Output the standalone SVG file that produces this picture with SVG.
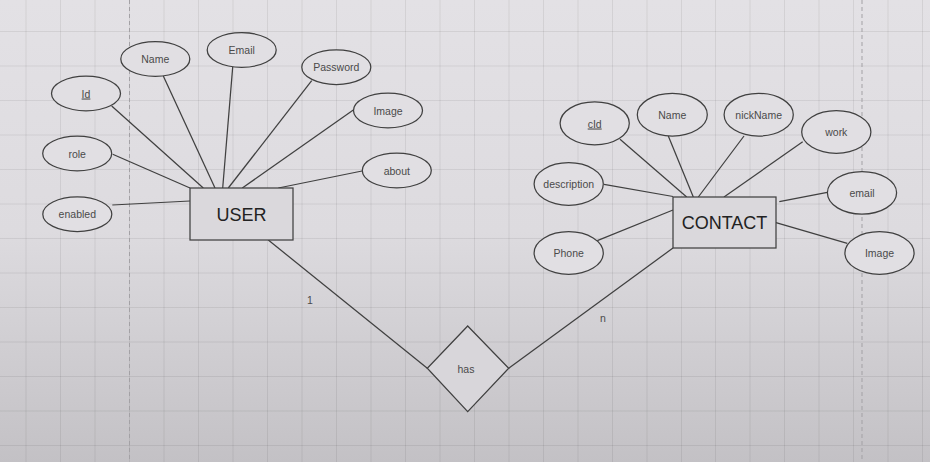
<svg xmlns="http://www.w3.org/2000/svg" width="930" height="462" viewBox="0 0 930 462">
<defs>
<linearGradient id="bg" x1="0" y1="0" x2="0" y2="1">
<stop offset="0" stop-color="#e3e1e5"/>
<stop offset="0.5" stop-color="#dddbdf"/>
<stop offset="1" stop-color="#c3c1c5"/>
</linearGradient>
<style>
.grid{stroke:#000;stroke-opacity:0.07;stroke-width:1;fill:none}
.page{stroke:#a3a1a5;stroke-width:1;stroke-dasharray:4 3;fill:none}
.attr{fill:#e1dfe3;stroke:#404040;stroke-width:1.25}
.ent{fill:#dad8dc;stroke:#404040;stroke-width:1.25}
.rel{fill:#d8d6da;stroke:#404040;stroke-width:1.25}
.conn line{stroke:#404040;stroke-width:1.25}
.t{font-family:"Liberation Sans",Arial,sans-serif;font-size:10.5px;fill:#4a4a4a;text-anchor:middle}
.big{font-family:"Liberation Sans",Arial,sans-serif;font-size:18px;fill:#222;text-anchor:middle}
.u{text-decoration:underline}
</style>
</defs>
<rect x="0" y="0" width="930" height="462" fill="url(#bg)"/>
<g id="grid">
<path class="grid" d="M26 0V462M60.5 0V462M95 0V462M129.5 0V462M164 0V462M198.5 0V462M233 0V462M267.5 0V462M302 0V462M336.5 0V462M371 0V462M405.5 0V462M440 0V462M474.5 0V462M509 0V462M543.5 0V462M578 0V462M612.5 0V462M647 0V462M681.5 0V462M715.5 0V462M750 0V462M784.5 0V462M819 0V462M853.5 0V462M888 0V462M922.5 0V462"/>
<path class="grid" d="M0 31.5H930M0 66H930M0 100.5H930M0 135H930M0 169.5H930M0 204H930M0 238.5H930M0 273H930M0 307.5H930M0 342H930M0 376.5H930M0 411H930M0 445.5H930"/>
<path class="page" d="M129.5 0V462M862 0V462"/>
</g>
<g id="connectors" class="conn">
<line x1="111.7" y1="106" x2="203.3" y2="188"/>
<line x1="163.3" y1="76" x2="215" y2="188"/>
<line x1="232.7" y1="67" x2="222.7" y2="188"/>
<line x1="311.7" y1="80.7" x2="228.3" y2="188"/>
<line x1="353.3" y1="110" x2="242.3" y2="188"/>
<line x1="362" y1="171" x2="278.3" y2="188"/>
<line x1="112.7" y1="154.3" x2="190" y2="188"/>
<line x1="112.3" y1="205" x2="190" y2="201"/>
<line x1="620" y1="139.3" x2="686.7" y2="197"/>
<line x1="668.3" y1="136" x2="693.3" y2="197"/>
<line x1="744" y1="136" x2="698.3" y2="197"/>
<line x1="802.7" y1="141.7" x2="724" y2="197"/>
<line x1="604" y1="184.3" x2="673" y2="196.5"/>
<line x1="597.3" y1="240.7" x2="673" y2="210"/>
<line x1="827.3" y1="192.3" x2="779.3" y2="201.7"/>
<line x1="847.3" y1="243.3" x2="776" y2="222.7"/>
<line x1="268.3" y1="240" x2="427.3" y2="368.3"/>
<line x1="508.7" y1="368.3" x2="673" y2="248"/>
<text class="t" x="310" y="304">1</text>
<text class="t" x="603" y="322">n</text>
</g>
<g id="user">
<rect class="ent" x="190" y="188" width="103" height="52"/>
<text class="big" x="241.5" y="220.5">USER</text>
</g>
<g id="contact">
<rect class="ent" x="673" y="197" width="103" height="51"/>
<text class="big" x="724.5" y="229">CONTACT</text>
</g>
<g id="has">
<polygon class="rel" points="467.7,326 508.7,368.3 467.7,411.7 427.3,368.3"/>
<text class="t" x="466" y="373">has</text>
</g>
<g id="user-id"><ellipse class="attr" cx="86" cy="93.5" rx="34.5" ry="17.3"/><text class="t u" x="86" y="97.5">Id</text></g>
<g id="user-name"><ellipse class="attr" cx="155.3" cy="59" rx="34.5" ry="17.3"/><text class="t" x="155.3" y="63">Name</text></g>
<g id="user-email"><ellipse class="attr" cx="241.7" cy="50" rx="34.5" ry="17.3"/><text class="t" x="241.7" y="54">Email</text></g>
<g id="user-password"><ellipse class="attr" cx="336.3" cy="67.2" rx="34.5" ry="17.3"/><text class="t" x="336.3" y="71.2">Password</text></g>
<g id="user-image"><ellipse class="attr" cx="388" cy="110.5" rx="34.5" ry="17.3"/><text class="t" x="388" y="114.5">Image</text></g>
<g id="user-role"><ellipse class="attr" cx="77.2" cy="153.5" rx="34.5" ry="17.3"/><text class="t" x="77.2" y="157.5">role</text></g>
<g id="user-about"><ellipse class="attr" cx="396.8" cy="170.5" rx="34.5" ry="17.3"/><text class="t" x="396.8" y="174.5">about</text></g>
<g id="user-enabled"><ellipse class="attr" cx="77.3" cy="214.2" rx="34.5" ry="17.3"/><text class="t" x="77.3" y="218.2">enabled</text></g>
<g id="contact-cid"><ellipse class="attr" cx="594.7" cy="123.3" rx="34.6" ry="21.5"/><text class="t u" x="594.7" y="127.5">cId</text></g>
<g id="contact-name"><ellipse class="attr" cx="672.3" cy="114.7" rx="35" ry="21.3"/><text class="t" x="672.3" y="118.7">Name</text></g>
<g id="contact-nickname"><ellipse class="attr" cx="758.7" cy="114.7" rx="34.6" ry="21.3"/><text class="t" x="758.7" y="118.7">nickName</text></g>
<g id="contact-work"><ellipse class="attr" cx="836.3" cy="132" rx="34.6" ry="21.3"/><text class="t" x="836.3" y="136">work</text></g>
<g id="contact-description"><ellipse class="attr" cx="568.7" cy="184" rx="34.6" ry="21.3"/><text class="t" x="568.7" y="188">description</text></g>
<g id="contact-email"><ellipse class="attr" cx="862" cy="192.8" rx="34.6" ry="21.3"/><text class="t" x="862" y="196.8">email</text></g>
<g id="contact-phone"><ellipse class="attr" cx="568.7" cy="253" rx="34.6" ry="21.3"/><text class="t" x="568.7" y="257">Phone</text></g>
<g id="contact-image"><ellipse class="attr" cx="879.5" cy="253" rx="34.6" ry="21.3"/><text class="t" x="879.5" y="257">Image</text></g>
</svg>
